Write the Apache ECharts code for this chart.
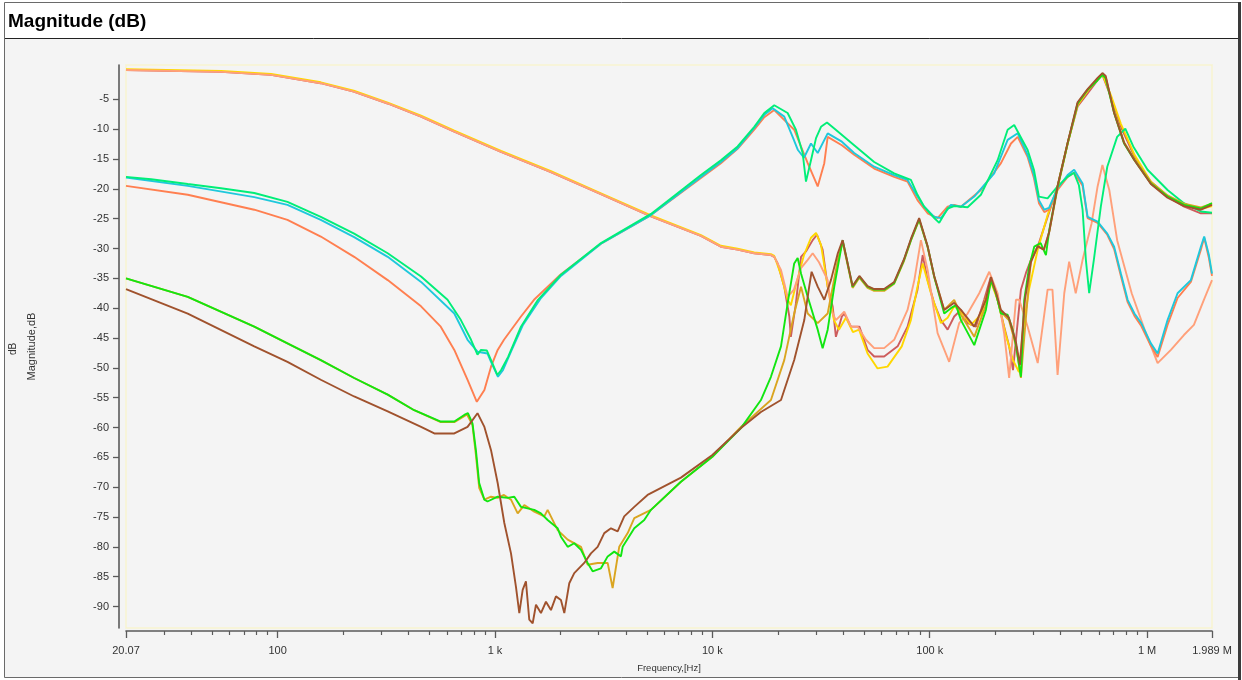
<!DOCTYPE html>
<html>
<head>
<meta charset="utf-8">
<script src="https://cdn.jsdelivr.net/npm/echarts@6/dist/echarts.min.js"></script>
<style>
  html, body { margin: 0; padding: 0; background: #ffffff; }
  #chart { width: 1242px; height: 680px; }
</style>
</head>
<body>
<div id="chart"></div>
<script>
// Magnitude responses, [frequency in Hz, magnitude in dB]

const springGreenTrace = [
  [20.07,-18.0],[26.2,-18.4],[38.6,-19.2],[54.9,-19.9],[78.1,-20.7],[111,-22.2],[158,-24.7],[225,-27.5],
  [321,-30.8],[457,-34.7],[605,-38.6],[697,-42.0],[776,-45.3],[831,-47.8],[862,-47.0],[918,-47.1],
  [959,-48.7],[1025,-51.2],[1066,-50.4],[1148,-48.2],[1317,-43.1],[1577,-38.6],[2011,-34.4],[3073,-29.1],
  [5219,-24.2],[8863,-17.7],[10950,-15.2],[13070,-12.9],[15590,-9.6],[17340,-7.3],[19270,-6.0],[22200,-7.3],
  [24240,-10.1],[26030,-14.0],[26960,-18.8],[28430,-15.2],[29990,-11.5],[31610,-9.6],[33680,-8.9],[36380,-9.9],
  [44920,-12.7],[55530,-15.5],[68620,-17.4],[81920,-18.5],[87860,-21.0],[94300,-23.0],[104900,-24.9],[110600,-25.7],
  [120900,-23.3],[129600,-22.9],[149400,-23.1],[172000,-21.0],[205300,-15.2],[228300,-10.1],[244700,-9.3],[282200,-13.5],
  [301600,-16.8],[318000,-21.3],[348600,-21.6],[387500,-19.6],[430800,-18.0],[460500,-17.3],[485700,-19.4],[505000,-23.5],
  [522900,-31.9],[541500,-37.5],[569000,-31.9],[612600,-23.0],[656000,-16.3],[728300,-11.3],[794100,-9.9],[863600,-12.9],
  [1005000,-16.8],[1242000,-20.2],[1477000,-22.4],[1768000,-23.8],[1989000,-24.0]
];

const turquoiseTrace = [
  [20.07,-18.1],[38.6,-19.5],[78.1,-21.4],[111,-22.7],[158,-25.2],[225,-28.1],[321,-31.4],[457,-35.6],
  [650,-40.9],[748,-45.3],[831,-47.3],[924,-47.6],[959,-49.0],[1032,-51.5],[1088,-50.4],[1185,-47.3],
  [1345,-42.8],[1628,-38.3],[2011,-34.6],[3073,-29.2],[5219,-24.4],[8863,-18.0],[10950,-15.5],[13070,-13.2],
  [15590,-9.8],[17340,-7.6],[18950,-6.5],[21420,-7.9],[23410,-11.3],[24760,-13.5],[26400,-14.8],[28430,-12.4],
  [30530,-14.0],[33930,-10.7],[39430,-12.1],[44920,-14.0],[55530,-16.3],[68620,-17.7],[79060,-18.5],[87860,-21.3],
  [94300,-23.0],[104900,-24.7],[112600,-24.9],[125200,-22.7],[139200,-23.0],[160300,-21.3],[198000,-17.4],[228300,-11.8],
  [253900,-10.7],[282200,-14.3],[301600,-17.7],[318000,-21.9],[336600,-23.5],[353800,-23.2],[387500,-19.9],[430800,-17.7],
  [461900,-16.8],[505000,-19.1],[532600,-24.7],[592000,-25.5],[656000,-27.5],[705300,-29.7],[757600,-34.2],[813900,-38.6],
  [874800,-40.9],[940300,-42.5],[1041000,-45.9],[1118000,-47.6],[1242000,-42.0],[1381000,-37.5],[1590000,-35.3],[1768000,-29.7],
  [1831000,-28.0],[1925000,-31.1],[1989000,-34.2]
];

const coralTrace = [
  [20.07,-19.5],[38.6,-21.0],[78.1,-23.5],[111,-25.2],[158,-28.0],[225,-31.4],[321,-35.3],[457,-39.7],
  [563,-43.1],[650,-47.0],[748,-52.0],[825,-55.7],[894,-53.7],[959,-49.8],[1029,-47.0],[1100,-45.3],
  [1317,-41.4],[1512,-38.6],[2011,-34.3],[3073,-29.2],[5219,-24.4],[8863,-18.2],[10950,-15.7],[13070,-13.3],
  [15590,-10.1],[17340,-8.0],[19270,-6.8],[23800,-10.1],[27460,-15.7],[30530,-19.6],[32730,-15.7],[33930,-11.3],
  [39430,-12.7],[44920,-14.3],[55530,-16.6],[68620,-18.0],[79060,-18.8],[87860,-21.9],[97800,-24.1],[108700,-24.9],
  [120900,-23.0],[129600,-22.7],[139200,-23.0],[172000,-20.2],[212700,-15.7],[236500,-12.4],[253900,-11.3],[282200,-14.7],
  [301600,-18.2],[318000,-22.4],[336600,-23.9],[353800,-23.5],[387500,-20.2],[430800,-18.0],[461900,-17.3],[505000,-19.5],
  [532600,-24.9],[592000,-25.7],[656000,-27.7],[705300,-30.1],[757600,-34.6],[813900,-39.0],[874800,-41.3],[940300,-43.0],
  [1041000,-46.3],[1118000,-48.2],[1242000,-42.8],[1381000,-38.3],[1590000,-35.6],[1768000,-30.2],[1831000,-28.2],[1925000,-31.6],
  [1989000,-34.6]
];

// low-pass part common to the three transfer traces below 20 kHz
const transferLowBand = [
  [20.07,-0.1],[54.9,-0.4],[93.3,-0.9],[158,-2.3],[224,-3.7],[321,-5.7],[457,-7.9],[650,-10.4],
  [1066,-13.8],[1809,-17.2],[3073,-20.9],[5219,-24.6],[8863,-27.9],[10950,-29.7],[13070,-30.2],[15590,-30.8],
  [18600,-31.1],[19270,-31.4]
];

const lightSalmonHigh = [
  [20690,-33.6],[22200,-38.1],[23730,-36.9],[25580,-33.3],[27460,-31.9],[28950,-30.8],[30950,-32.3],[33930,-35.3],
  [35160,-40.3],[37020,-42.0],[40440,-40.6],[43420,-43.1],[46640,-43.1],[50870,-45.3],[55530,-46.7],[61720,-46.7],
  [68620,-45.3],[79060,-40.3],[84980,-35.3],[91090,-28.6],[97800,-33.6],[108700,-44.2],[122900,-49.0],[136700,-42.5],
  [149400,-40.9],[169000,-37.5],[187900,-33.9],[205300,-37.5],[220000,-44.2],[232000,-51.7],[249300,-38.6],[258200,-38.6],
  [282200,-43.1],[313900,-49.2],[348600,-36.9],[367000,-36.9],[387500,-51.2],[415900,-37.5],[438100,-32.2],[469600,-37.5],
  [505000,-31.9],[555400,-25.8],[592000,-19.6],[623000,-16.0],[670000,-20.2],[728300,-28.6],[849500,-37.5],[974000,-43.6],
  [1118000,-49.2],[1287000,-47.0],[1477000,-44.5],[1642000,-42.8],[1825000,-38.6],[1989000,-35.3]
];

const goldHigh = [
  [20690,-34.4],[22200,-38.6],[22970,-39.5],[24240,-36.1],[26400,-31.1],[28430,-28.2],[29990,-27.4],[31610,-29.4],
  [33930,-36.4],[36260,-42.0],[38210,-43.6],[41170,-41.6],[44320,-44.0],[47300,-43.6],[51770,-47.6],[57560,-50.1],
  [63980,-49.8],[74370,-46.4],[81920,-42.0],[87860,-36.4],[92830,-32.5],[101300,-37.5],[112600,-42.5],[120900,-41.6],
  [129600,-39.7],[139200,-40.6],[154700,-42.8],[172000,-41.1],[191300,-35.6],[205300,-38.6],[224000,-44.5],[241600,-48.7],
  [257400,-50.7],[268600,-43.6],[286200,-36.9],[313900,-30.2],[348600,-24.4],[387500,-19.6],[430800,-12.4],[478900,-6.0],
  [532600,-3.6],[592000,-1.6],[623000,-0.8],[681300,-4.3],[757600,-9.1],[874800,-14.3],[1041000,-18.8],[1242000,-21.2],
  [1482000,-22.7],[1768000,-23.4],[1989000,-22.9]
];

const indianRedHigh = [
  [19970,-32.5],[21420,-36.4],[22600,-41.4],[22970,-44.8],[24240,-39.2],[25580,-31.4],[26960,-30.5],[28950,-28.6],
  [30310,-27.7],[32160,-30.2],[33930,-36.4],[35770,-39.7],[37020,-44.8],[39430,-41.4],[40440,-40.9],[43420,-43.1],
  [47460,-43.1],[51770,-47.0],[55530,-48.1],[61720,-48.1],[71190,-46.4],[79060,-43.1],[87860,-36.9],[92830,-31.1],
  [97800,-35.3],[104900,-39.2],[112600,-42.0],[120900,-43.6],[129600,-41.4],[139200,-40.3],[149400,-42.5],[163200,-43.1],
  [178000,-38.6],[191300,-34.7],[205300,-38.6],[220000,-43.1],[232000,-46.4],[241600,-50.4],[251900,-43.6],[262800,-36.9],
  [277200,-34.1],[292200,-31.9],[313900,-29.7],[348600,-24.7],[387500,-19.6],[430800,-12.4],[478900,-6.2],[532600,-4.0],
  [592000,-1.8],[623000,-0.9],[681300,-4.6],[757600,-9.6],[874800,-14.6],[1041000,-19.1],[1242000,-21.3],[1482000,-23.0],
  [1768000,-24.1],[1989000,-24.1]
];

const limeTrace = [
  [20.07,-35.0],[38.6,-38.1],[78.1,-43.1],[111,-45.9],[158,-48.7],[225,-51.7],[321,-54.5],[425,-57.1],
  [563,-59.0],[650,-59.0],[722,-57.9],[751,-57.6],[788,-59.3],[817,-63.8],[846,-69.3],[894,-72.1],
  [924,-72.4],[1029,-71.6],[1144,-71.8],[1227,-71.6],[1317,-73.3],[1516,-73.8],[1627,-74.4],[1747,-75.5],
  [1943,-76.9],[2011,-78.3],[2160,-80.0],[2316,-79.4],[2487,-80.5],[2669,-82.7],[2814,-84.1],[3073,-83.6],
  [3300,-81.6],[3538,-80.8],[3797,-81.6],[3867,-80.0],[4374,-76.9],[4861,-75.5],[5219,-73.8],[7170,-69.1],
  [10000,-64.9],[13540,-60.1],[16730,-55.4],[18600,-51.5],[20690,-46.4],[22200,-39.2],[23800,-32.5],[24690,-31.6],
  [25580,-34.2],[27460,-38.1],[30530,-43.6],[32160,-46.7],[33930,-43.6],[36380,-36.4],[39760,-28.6],[44180,-36.4],
  [47460,-34.7],[51770,-36.4],[55530,-36.9],[61720,-36.9],[68620,-35.8],[76150,-31.9],[81920,-28.6],[89410,-25.1],
  [97800,-29.7],[104900,-34.7],[116600,-40.9],[125200,-40.0],[132000,-39.5],[139200,-42.0],[160300,-46.2],[181300,-40.3],
  [191300,-35.3],[201500,-37.5],[212700,-40.9],[228300,-41.1],[240800,-43.6],[249300,-46.2],[262800,-51.5],[272200,-38.6],
  [286900,-33.0],[302600,-29.7],[323900,-29.1],[342500,-31.1],[354800,-26.9],[387500,-19.6],[430800,-12.4],[478900,-5.7],
  [532600,-3.4],[592000,-1.8],[623000,-0.9],[645000,-1.5],[705300,-7.3],[783800,-12.4],[874800,-15.2],[1041000,-19.1],
  [1242000,-21.3],[1482000,-22.7],[1768000,-23.3],[1989000,-22.4]
];

const goldenrodTrace = [
  [20.07,-35.0],[38.6,-38.1],[78.1,-43.1],[111,-45.9],[158,-48.7],[225,-51.7],[321,-54.5],[425,-57.1],
  [563,-59.1],[650,-59.1],[722,-58.1],[743,-57.8],[788,-59.6],[817,-64.6],[846,-70.1],[894,-72.1],
  [959,-71.6],[1029,-71.8],[1100,-71.3],[1185,-72.1],[1272,-74.4],[1364,-73.0],[1516,-74.1],[1686,-74.9],
  [1747,-73.8],[1943,-77.2],[2160,-78.8],[2487,-80.0],[2669,-83.0],[2967,-82.7],[3300,-82.7],[3477,-86.9],
  [3729,-80.0],[4079,-77.7],[4374,-75.2],[5219,-73.8],[7170,-69.1],[10000,-64.9],[13540,-59.9],[18600,-55.4],
  [21420,-48.7],[23800,-40.9],[25580,-36.4],[27460,-40.9],[30530,-42.5],[33930,-40.9],[37780,-31.9],[39760,-28.9],
  [44180,-36.6],[47460,-34.9],[51770,-36.6],[55530,-37.1],[61720,-37.1],[68620,-35.9],[76150,-32.1],[81920,-28.7],
  [89410,-25.2],[97800,-29.7],[104900,-34.8],[116600,-40.3],[129600,-38.6],[139200,-41.1],[160300,-44.8],[181300,-39.5],
  [191300,-35.3],[201500,-37.6],[212700,-40.6],[231300,-42.0],[249300,-46.2],[262800,-51.7],[274100,-43.6],[292200,-31.9],
  [313900,-29.7],[335000,-30.2],[354800,-27.2],[387500,-19.9],[430800,-12.5],[478900,-5.8],[532600,-3.4],[592000,-1.6],
  [623000,-0.8],[645000,-1.3],[705300,-7.1],[783800,-12.2],[874800,-15.0],[1041000,-18.8],[1242000,-21.1],[1482000,-22.5],
  [1768000,-23.1],[1989000,-22.5]
];

const siennaTrace = [
  [20.07,-36.8],[38.6,-40.9],[78.1,-46.4],[111,-49.0],[158,-52.0],[225,-54.8],[321,-57.3],[457,-59.9],
  [526,-61.0],[650,-61.0],[748,-59.9],[831,-57.6],[894,-59.9],[959,-63.8],[1029,-69.3],[1104,-76.0],
  [1185,-81.1],[1249,-86.7],[1294,-91.1],[1341,-87.2],[1388,-85.8],[1438,-92.2],[1491,-92.8],[1544,-89.7],
  [1627,-91.1],[1716,-89.2],[1809,-90.6],[1908,-88.3],[2011,-88.9],[2084,-91.1],[2197,-86.1],[2316,-84.4],
  [2574,-82.7],[2764,-81.1],[2967,-80.0],[3183,-77.7],[3417,-76.9],[3667,-77.4],[3932,-74.9],[4374,-73.3],
  [5035,-71.3],[7170,-68.4],[10000,-64.6],[13540,-60.1],[16730,-57.4],[20690,-55.4],[23800,-48.7],[26480,-42.0],
  [27900,-36.4],[28620,-33.9],[30530,-36.4],[32730,-38.6],[35120,-35.3],[37780,-30.8],[39760,-28.6],[44180,-36.3],
  [47460,-34.6],[51770,-36.3],[55530,-36.8],[61720,-36.8],[68620,-35.6],[76150,-31.8],[81920,-28.4],[89410,-24.9],
  [97800,-29.6],[104900,-34.6],[116600,-40.3],[129600,-39.1],[139200,-40.3],[160300,-43.1],[181300,-38.6],[191300,-34.8],
  [201500,-37.3],[212700,-40.3],[231300,-41.6],[249300,-45.7],[260000,-49.5],[274100,-38.6],[292200,-32.3],[313900,-29.6],
  [335000,-30.2],[354800,-27.2],[387500,-19.5],[430800,-12.3],[478900,-5.5],[532600,-3.3],[592000,-1.4],[623000,-0.6],
  [645000,-1.1],[705300,-7.3],[783800,-12.3],[874800,-15.2],[1041000,-19.2],[1242000,-21.5],[1482000,-22.9],[1768000,-23.5],
  [1989000,-22.7]
];

// axis marks
const freqMajorTicks = [20.07, 100, 1e3, 1e4, 1e5, 1e6, 1.989e6];
const freqMinorTicks = [30,40,50,60,70,80,90, 200,300,400,500,600,700,800,900,
  2e3,3e3,4e3,5e3,6e3,7e3,8e3,9e3, 2e4,3e4,4e4,5e4,6e4,7e4,8e4,9e4,
  2e5,3e5,4e5,5e5,6e5,7e5,8e5,9e5];
const dbTicks = [-5,-10,-15,-20,-25,-30,-35,-40,-45,-50,-55,-60,-65,-70,-75,-80,-85,-90];
const freqMin = 20.07, freqMax = 1.989e6;
const dbMin = -93.6, dbMax = 0.75;

// drawn bottom to top
const traces = [
  { color: '#cd5c5c', data: transferLowBand.concat(indianRedHigh) },
  { color: '#ffd700', data: transferLowBand.map(p => [p[0], p[1] + 0.15]).concat(goldHigh) },
  { color: '#ffa07a', data: transferLowBand.concat(lightSalmonHigh) },
  { color: '#ff7f50', data: coralTrace },
  { color: '#1ec8dc', data: turquoiseTrace },
  { color: '#00ee78', data: springGreenTrace },
  { color: '#daa520', data: goldenrodTrace },
  { color: '#11e611', data: limeTrace },
  { color: '#a0522d', data: siennaTrace }
];

const lg = Math.log10;
function freqLabel(v) {
  const f = Math.pow(10, v);
  const fmt = x => String(parseFloat(x.toPrecision(4)));
  if (f >= 1e6 - 1) return fmt(f / 1e6) + ' M';
  if (f >= 1e3 - 1e-6) return fmt(f / 1e3) + ' k';
  return fmt(f);
}

const FONT = '"Liberation Sans", Arial, sans-serif';
const chart = echarts.init(document.getElementById('chart'), null, { renderer: 'canvas' });

chart.setOption({
  animation: false,
  backgroundColor: '#ffffff',
  graphic: [
    { type: 'rect', z: -10, shape: { x: 4.5, y: 2.5, width: 1234, height: 675 },
      style: { fill: '#f4f4f4', stroke: '#6a6a6a', lineWidth: 1 } },
    { type: 'rect', z: -9, shape: { x: 5, y: 3, width: 1233, height: 35 },
      style: { fill: '#ffffff' } },
    { type: 'line', z: -8, shape: { x1: 5, y1: 38.5, x2: 1238, y2: 38.5 },
      style: { stroke: '#222', lineWidth: 1 } },
    { type: 'line', z: -8, shape: { x1: 1239.5, y1: 2, x2: 1239.5, y2: 680 },
      style: { stroke: '#3a3a3a', lineWidth: 3 } },
    { type: 'text', left: 8, top: 12,
      style: { text: 'Magnitude (dB)', font: 'bold 19px ' + FONT, fill: '#000' } },
    { type: 'text', x: 13, y: 349, rotation: Math.PI / 2,
      style: { text: 'dB', font: '10px ' + FONT, fill: '#333', align: 'center', verticalAlign: 'middle' } }
  ],
  grid: {
    left: 126, right: 30, top: 65, bottom: 52,
    show: true, backgroundColor: 'transparent', borderColor: '#f7f3cf', borderWidth: 1.5
  },
  xAxis: [
    {
      type: 'value', position: 'bottom', min: lg(freqMin), max: lg(freqMax), offset: 3,
      name: 'Frequency,[Hz]', nameLocation: 'middle', nameGap: 32,
      nameTextStyle: { fontSize: 9.5, color: '#333', fontFamily: FONT },
      axisLine: { show: true, onZero: false, lineStyle: { color: '#5a5a5a', width: 1.6 } },
      axisTick: { show: true, inside: false, length: 7, lineStyle: { color: '#5a5a5a', width: 1.3 },
        customValues: freqMajorTicks.map(lg) },
      axisLabel: { show: true, margin: 14, fontSize: 11, color: '#333', fontFamily: FONT,
        customValues: freqMajorTicks.map(lg), formatter: freqLabel, showMinLabel: true, showMaxLabel: true },
      splitLine: { show: false }
    },
    {
      type: 'value', position: 'bottom', min: lg(freqMin), max: lg(freqMax), offset: 3,
      axisLine: { show: false, onZero: false },
      axisTick: { show: true, inside: false, length: 4, lineStyle: { color: '#5a5a5a', width: 1.2 },
        customValues: freqMinorTicks.map(lg) },
      axisLabel: { show: false },
      splitLine: { show: false }
    }
  ],
  yAxis: {
    type: 'value', min: dbMin, max: dbMax, offset: 7,
    name: 'Magnitude,dB', nameLocation: 'middle', nameRotate: 90, nameGap: 82,
    nameTextStyle: { fontSize: 11, color: '#333', fontFamily: FONT },
    axisLine: { show: true, onZero: false, lineStyle: { color: '#5a5a5a', width: 1.6 } },
    axisTick: { show: true, inside: false, length: 6, lineStyle: { color: '#5a5a5a', width: 1.3 },
      customValues: dbTicks },
    axisLabel: { show: true, margin: 10, fontSize: 11, color: '#333', fontFamily: FONT,
      customValues: dbTicks },
    splitLine: { show: false }
  },
  series: traces.map(t => ({
    type: 'line',
    xAxisIndex: 0,
    showSymbol: false,
    symbol: 'none',
    clip: true,
    lineStyle: { color: t.color, width: 1.9 },
    itemStyle: { color: t.color },
    emphasis: { disabled: true },
    data: t.data.map(p => [lg(p[0]), p[1]])
  }))
});
</script>
</body>
</html>
